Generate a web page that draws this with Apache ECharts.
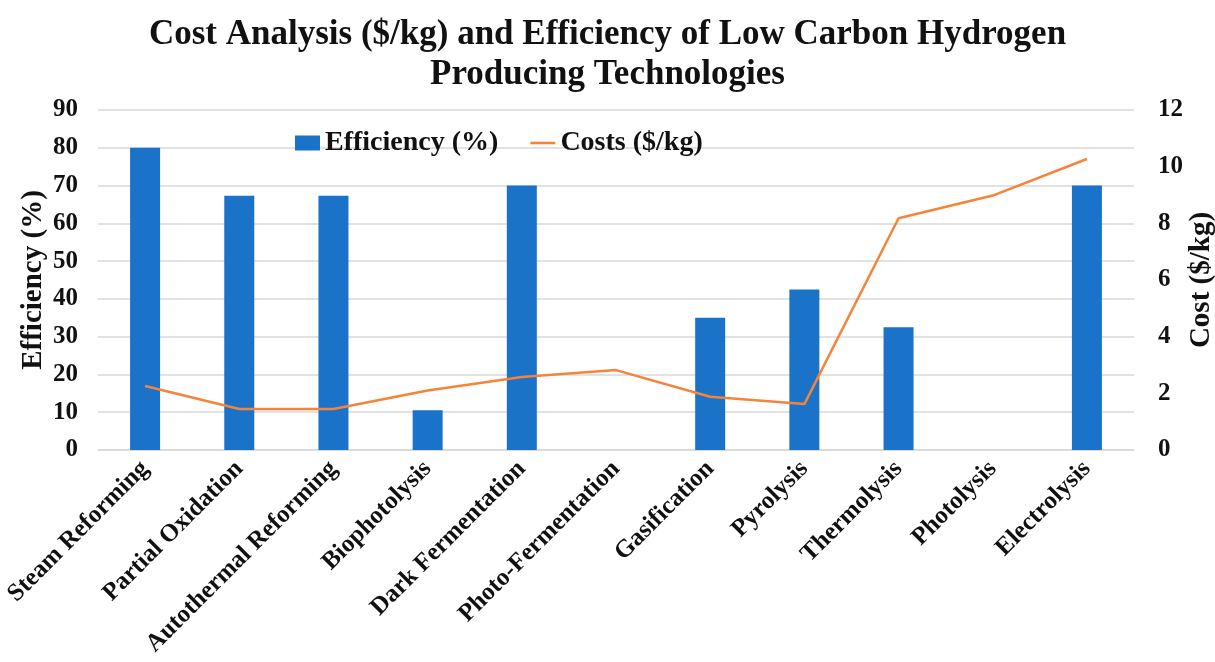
<!DOCTYPE html>
<html>
<head>
<meta charset="utf-8">
<script src="https://cdn.jsdelivr.net/npm/echarts@6/dist/echarts.min.js"></script>
<style>
  html, body { margin: 0; padding: 0; background: #fff; }
  #main { width: 1215px; height: 662px; }
</style>
</head>
<body>
<div id="main"></div>
<script>
var categories = ['Steam Reforming', 'Partial Oxidation', 'Autothermal Reforming', 'Biophotolysis',
    'Dark Fermentation', 'Photo-Fermentation', 'Gasification', 'Pyrolysis', 'Thermolysis',
    'Photolysis', 'Electrolysis'];
var efficiency = [80, 67.3, 67.3, 10.5, 70, null, 35, 42.5, 32.5, null, 70];
var costs = [2.26, 1.45, 1.45, 2.1, 2.58, 2.82, 1.88, 1.62, 8.18, 8.98, 10.27];

var serif = '"Liberation Serif", "Times New Roman", serif';
var orange = '#f5843a';

var option = {
    backgroundColor: '#fff',
    title: {
        text: 'Cost Analysis ($/kg) and Efficiency of Low Carbon Hydrogen\nProducing Technologies',
        left: 'center',
        top: 10,
        textStyle: { fontFamily: serif, fontWeight: 'bold', fontSize: 35, lineHeight: 40, color: '#111' }
    },
    legend: {
        left: 290,
        top: 124,
        itemWidth: 25,
        itemHeight: 15,
        itemGap: 32,
        itemTextGap: 3,
        textStyle: { fontFamily: serif, fontWeight: 'bold', fontSize: 28, color: '#111' },
        data: [
            { name: 'Efficiency (%)', icon: 'rect' },
            { name: 'Costs ($/kg)', icon: 'path://M0,6.2 H25 V8.8 H0 Z', itemStyle: { color: orange } }
        ]
    },
    grid: { left: 98, right: 81, top: 110, bottom: 212, outerBoundsMode: 'none', containLabel: false },
    xAxis: {
        type: 'category',
        data: categories,
        axisTick: { show: false },
        axisLine: { lineStyle: { color: '#d9d9d9', width: 1.5 } },
        axisLabel: {
            interval: 0, rotate: 45, margin: 15,
            fontFamily: serif, fontWeight: 'bold', fontSize: 25, color: '#111'
        }
    },
    yAxis: [{
        type: 'value',
        min: 0, max: 90, interval: 10,
        name: 'Efficiency (%)',
        nameLocation: 'middle',
        nameRotate: 90,
        nameGap: 50,
        nameMoveOverlap: false,
        nameTextStyle: { fontFamily: serif, fontWeight: 'bold', fontSize: 29, color: '#111' },
        axisLabel: { fontFamily: serif, fontWeight: 'bold', fontSize: 25, color: '#111', margin: 20 },
        splitLine: { lineStyle: { color: '#d9d9d9', width: 1.5 } }
    }, {
        type: 'value',
        min: 0, max: 12, interval: 2,
        name: 'Cost ($/kg)',
        nameLocation: 'middle',
        nameRotate: 90,
        nameGap: 53,
        nameMoveOverlap: false,
        nameTextStyle: { fontFamily: serif, fontWeight: 'bold', fontSize: 29, color: '#111' },
        axisLabel: { fontFamily: serif, fontWeight: 'bold', fontSize: 25, color: '#111', margin: 24 },
        splitLine: { show: false }
    }],
    series: [{
        name: 'Efficiency (%)',
        type: 'bar',
        yAxisIndex: 0,
        barWidth: 30,
        itemStyle: { color: '#1a73c9' },
        data: efficiency
    }, {
        name: 'Costs ($/kg)',
        type: 'line',
        yAxisIndex: 1,
        symbol: 'none',
        lineStyle: { color: orange, width: 2.5 },
        itemStyle: { color: orange },
        data: costs
    }]
};

var myChart = echarts.init(document.getElementById('main'));
myChart.setOption(option);
</script>
</body>
</html>
